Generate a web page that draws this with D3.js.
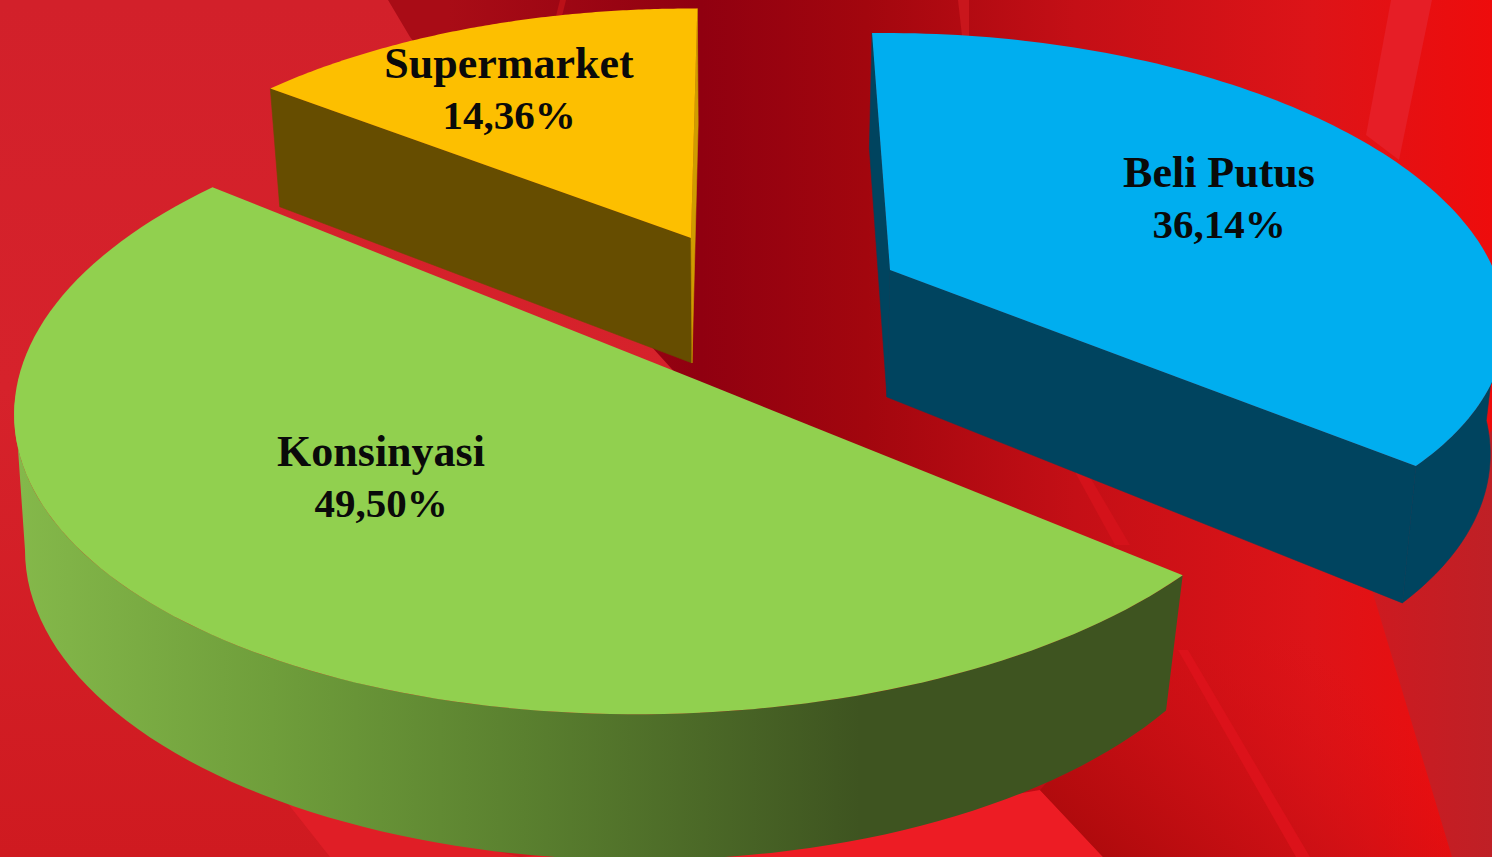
<!DOCTYPE html>
<html lang="en">
<head>
<meta charset="UTF-8">
<title>Pie 3D</title>
<script src="https://d3js.org/d3.v7.min.js"></script>
<style>
  body { margin: 0; overflow: hidden; background: #d0141c; }
  svg { display: block; }
  .label { font-family: "Liberation Serif", serif; font-weight: bold; fill: #0a0a0a; text-anchor: middle; }
</style>
</head>
<body>
<div id="chart"></div>
<script>
// data
const categories = ["Konsinyasi", "Supermarket", "Beli Putus"];
const shares = [49.50, 14.36, 36.14];
const topColors = ["#91d04f", "#fdbf00", "#00aeef"];
const sideColors = ["url(#greenWall)", "#664d00", "#00445f"];

// how each exploded slice sits on the page (ellipse of its top face, apex, base)
const width = 1492, height = 857;
const placement = {
  "Konsinyasi":  { apex: [697, 380], c: [658, 404], r: [644, 310], tilt: -1.2, phi: [36, 226.8], wallTo: 183,
                   baseEllipse: { c: [640, 550], r: [615, 310], tilt: 0, phi: [31.2, 180] } },
  "Supermarket": { apex: [691, 238], c: [692, 293.5], r: [607, 285], tilt: 0, phi: [226, 270.5], baseApex: [692, 363], baseScale: [0.98, 1.045] },
  "Beli Putus":  { apex: [890, 270], c: [930, 304], r: [576, 270], tilt: 2.6, phi: [263, 391.2], baseApex: [887, 397], baseScale: [0.98, 1.05], wallTo: 352 }
};
const labelAt = { "Konsinyasi": [381, 466, 517], "Supermarket": [509, 78, 129], "Beli Putus": [1219, 187, 238] };

const svg = d3.select("#chart").append("svg").attr("width", width).attr("height", height);
const defs = svg.append("defs");

function gradient(id, stops, x1, x2, y1 = 0, y2 = 0) {
  const g = defs.append("linearGradient").attr("id", id)
    .attr("gradientUnits", "userSpaceOnUse")
    .attr("x1", x1).attr("x2", x2).attr("y1", y1).attr("y2", y2);
  stops.forEach(s => g.append("stop").attr("offset", s[0]).attr("stop-color", s[1]).attr("stop-opacity", s[2] === undefined ? 1 : s[2]));
}
gradient("bg", [[0, "#a90c16"], [0.3, "#a90c16"], [0.47, "#900010"], [0.58, "#a2060e"], [0.72, "#c40f16"], [0.88, "#dd1418"], [1, "#ee0c0c"]], 0, width);
gradient("bgLeft", [[0, "#d2202a"], [0.45, "#d6222b"], [1, "#cf1a20"]], 0, 0, 0, height);
gradient("bgLow", [[0, "#ae0a0c", 1], [0.55, "#cb0f14", 0.7], [1, "#dc1014", 0]], 1085, 1290, 850, 620);
gradient("bgWedge", [[0, "#cd1a20"], [1, "#bf2026"]], 1370, 1492);
gradient("greenWall", [[0, "#84b84a"], [0.3, "#6f9e3b"], [0.6, "#5a802f"], [1, "#3e5420"]], 20, 860);

// background bands
const bandLine = d3.line();
svg.append("rect").attr("width", width).attr("height", height).attr("fill", "url(#bg)");
const bands = [
  { pts: [[0, 0], [388, 0], [410, 37], [650, 345], [700, 400], [700, 857], [0, 857]], fill: "url(#bgLeft)" },
  { pts: [[285, 800], [520, 857], [330, 857]], fill: "#e01e26" },
  { pts: [[520, 857], [800, 830], [1040, 790], [1103, 857]], fill: "#ed1c24" },
  { pts: [[1040, 790], [1172, 640], [1410, 640], [1452, 857], [1103, 857]], fill: "url(#bgLow)" },
  { pts: [[1075, 472], [1087, 472], [1130, 545], [1115, 545]], fill: "#d4121a" },
  { pts: [[1178, 650], [1188, 650], [1310, 857], [1296, 857]], fill: "#dc121a" },
  { pts: [[1372, 590], [1492, 430], [1492, 857], [1452, 857]], fill: "url(#bgWedge)" },
  { pts: [[1391, 0], [1432, 0], [1399, 160], [1366, 135]], fill: "#e61e26" },
  { pts: [[958, 0], [969, 0], [969, 36], [962, 36]], fill: "#c9161c" },
  { pts: [[560, 0], [566, 0], [562, 16], [556, 16]], fill: "#bb1018" }
];
svg.selectAll("path.band").data(bands).enter().append("path")
  .attr("class", "band")
  .attr("d", d => bandLine(d.pts) + "Z")
  .attr("fill", d => d.fill);

// slices
const pie = d3.pie().sort(null).startAngle(0).endAngle(2 * Math.PI);
const arcs = pie(shares);
const toRad = Math.PI / 180;

function rimPoint(p, phi) {
  const t = p.tilt * toRad, f = phi * toRad;
  const ex = p.r[0] * Math.cos(f), ey = p.r[1] * Math.sin(f);
  return [p.c[0] + ex * Math.cos(t) - ey * Math.sin(t), p.c[1] + ex * Math.sin(t) + ey * Math.cos(t)];
}
function lower(p, q) {
  return [p.baseApex[0] + p.baseScale[0] * (q[0] - p.apex[0]), p.baseApex[1] + p.baseScale[1] * (q[1] - p.apex[1])];
}
const line = d3.line();

function face(g, pts, fill) {
  g.append("path").attr("d", line(pts) + "Z").attr("fill", fill).attr("stroke", fill).attr("stroke-width", 0.6);
}

// back to front: yellow, blue, green
[1, 2, 0].forEach(i => {
  const name = categories[i], p = placement[name], a = arcs[i];
  const phi = d3.scaleLinear().domain([a.startAngle, a.endAngle]).range(p.phi);
  const rim = d3.range(0, 121).map(k => rimPoint(p, phi(a.startAngle + (a.endAngle - a.startAngle) * k / 120)));
  const first = rim[0], last = rim[rim.length - 1];
  const g = svg.append("g").attr("class", "slice");

  if (i === 0) {
    // outer wall of the green slice, its base is a separate ellipse
    const b = p.baseEllipse;
    const upper = d3.range(0, 81).map(k => rimPoint(p, p.phi[0] + (p.wallTo - p.phi[0]) * k / 80));
    const base = d3.range(0, 81).map(k => rimPoint(b, b.phi[0] + (b.phi[1] - b.phi[0]) * k / 80));
    g.append("path").attr("d", line(upper.concat(base.reverse())) + "Z").attr("fill", sideColors[0]);
  } else {
    const isBlue = i === 2;
    const front = isBlue ? last : first;
    const back = isBlue ? first : last;
    if (isBlue) {
      const upper = d3.range(0, 41).map(k => rimPoint(p, p.phi[1] + (p.wallTo - p.phi[1]) * k / 40));
      face(g, upper.concat(upper.map(q => lower(p, q)).reverse()), sideColors[2]);
    }
    // radial face toward the viewer
    face(g, [p.apex, front, lower(p, front), p.baseApex], sideColors[i]);
    // other radial face, only a sliver
    face(g, [p.apex, back, lower(p, back), p.baseApex], isBlue ? "#00445f" : "#cf9c00");
  }
  g.append("path").attr("d", line([p.apex].concat(rim)) + "Z").attr("fill", topColors[i]);
});

// labels
categories.forEach((name, i) => {
  const at = labelAt[name];
  svg.append("text").attr("class", "label").attr("x", at[0]).attr("y", at[1]).style("font-size", "44px").text(name);
  svg.append("text").attr("class", "label").attr("x", at[0]).attr("y", at[2]).style("font-size", "41px")
    .text(shares[i].toFixed(2).replace(".", ",") + "%");
});
</script>
</body>
</html>
